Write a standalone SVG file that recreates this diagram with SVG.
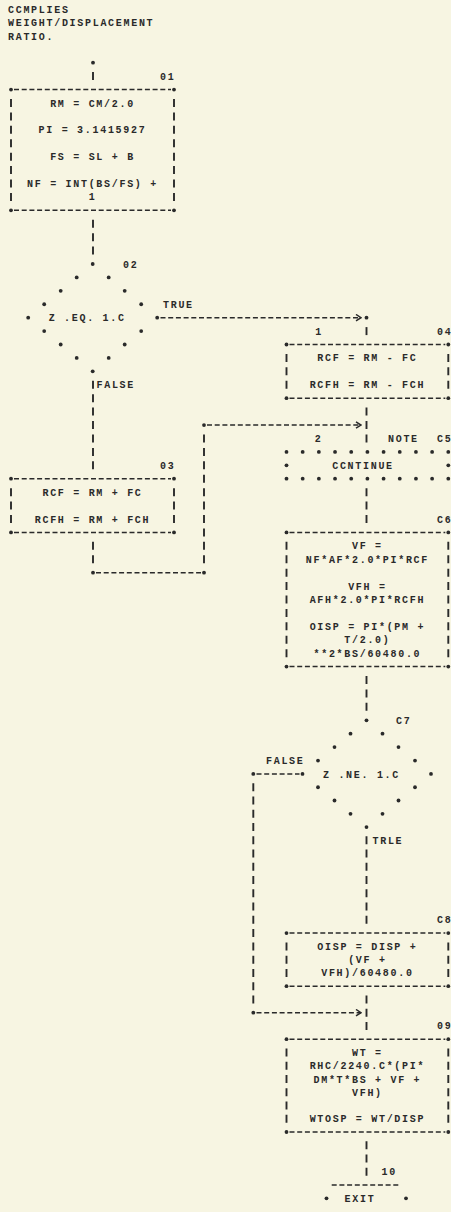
<svg xmlns="http://www.w3.org/2000/svg" width="451" height="1212" viewBox="0 0 451 1212">
  <defs>
    <style>
      .tx { font-family: "Liberation Mono", "DejaVu Sans Mono", monospace; font-size: 10px; font-weight: bold; letter-spacing: 1.7px; fill: #2a2a2a; }
      .c { text-anchor: middle; }
      .hd { fill: none; stroke: #2a2a2a; stroke-width: 1.5; stroke-dasharray: 5 2.7; }
      .v1 { fill: none; stroke: #2a2a2a; stroke-width: 1.9; stroke-dasharray: 8 5.42; }
      .v2 { fill: none; stroke: #2a2a2a; stroke-width: 1.9; stroke-dasharray: 8 5.26; }
      .vb { fill: none; stroke: #2a2a2a; stroke-width: 1.9; }
      .dt { fill: #2a2a2a; }
    </style>
    <marker id="chev" markerUnits="userSpaceOnUse" markerWidth="7" markerHeight="8" viewBox="0 0 7 8" refX="6" refY="4" orient="auto">
      <path d="M1,0.8 L6,4 L1,7.2" fill="none" stroke="#2a2a2a" stroke-width="1.5"/>
    </marker>
  </defs>

  <rect x="0" y="0" width="451" height="1212" fill="#f7f5e2"/>

  <!-- heading -->
  <g id="heading" class="tx">
    <text x="8" y="12.8">CCMPLIES</text>
    <text x="8" y="26.2">WEIGHT/DISPLACEMENT</text>
    <text x="8" y="39.6">RATIO.</text>
  </g>

  <!-- connectors -->
  <g id="connectors">
    <!-- entry -->
    <circle class="dt" cx="93" cy="62.7" r="1.9"/>
    <path class="vb" d="M93,72.1 V80.1"/>
    <!-- 01 to 02 -->
    <path class="v1" d="M93,219.74 V254.58"/>
    <!-- 02 false branch to 03 -->
    <path class="v1" d="M93,380.78 V469.3"/>
    <text class="tx" x="96.5" y="388.3">FALSE</text>
    <!-- 03 down, across and up into 05 -->
    <path class="v1" d="M93,541.82 V563.24"/>
    <circle class="dt" cx="93" cy="572.66" r="1.9"/>
    <path class="hd" d="M96,572.66 H201"/>
    <circle class="dt" cx="204" cy="572.66" r="1.9"/>
    <path class="v1" d="M204,434.46 V563.24"/>
    <circle class="dt" cx="204" cy="425.04" r="1.9"/>
    <path class="hd" d="M207,425.04 H361" marker-end="url(#chev)"/>
    <!-- 02 true branch to 04 -->
    <text class="tx" x="163" y="307.8">TRUE</text>
    <path class="hd" d="M160.5,317.68 H361" marker-end="url(#chev)"/>
    <circle class="dt" cx="366.5" cy="317.68" r="1.9"/>
    <path class="vb" d="M366.5,327.1 V335.1"/>
    <text class="tx c" x="319" y="334.6">1</text>
    <!-- 04 to 05 -->
    <path class="v1" d="M366.5,407.62 V442.46"/>
    <text class="tx c" x="318.5" y="442">2</text>
    <!-- 05 to 06 -->
    <path class="v1" d="M366.5,488.14 V522.98"/>
    <!-- 06 to 07 -->
    <path class="v1" d="M366.5,676.02 V710.86"/>
    <!-- 07 false branch around 08 into 09 -->
    <text class="tx" x="266" y="764">FALSE</text>
    <circle class="dt" cx="253.3" cy="773.96" r="1.9"/>
    <path class="hd" d="M256.5,773.96 H299.5"/>
    <path class="v2" d="M253.3,783.26 V1003.42"/>
    <circle class="dt" cx="253.3" cy="1012.68" r="1.9"/>
    <path class="hd" d="M256.5,1012.68 H361" marker-end="url(#chev)"/>
    <!-- 07 true branch to 08 -->
    <text class="tx" x="372.5" y="843.8">TRLE</text>
    <path class="v2" d="M366.5,836.3 V923.86"/>
    <!-- 08 to 09 -->
    <path class="v2" d="M366.5,995.42 V1029.94"/>
    <!-- 09 to exit -->
    <path class="v2" d="M366.5,1141.28 V1175.8"/>
  </g>

  <!-- 01 initial assignments -->
  <g id="n01">
    <text class="tx" x="160" y="79.6">01</text>
    <path class="hd" d="M14,89.54 H171 M14,210.32 H171"/>
    <path class="v1" d="M11,98.96 V200.9 M174,98.96 V200.9"/>
    <circle class="dt" cx="11" cy="89.54" r="1.9"/>
    <circle class="dt" cx="174" cy="89.54" r="1.9"/>
    <circle class="dt" cx="11" cy="210.32" r="1.9"/>
    <circle class="dt" cx="174" cy="210.32" r="1.9"/>
    <g class="tx c">
      <text x="92.5" y="106.5">RM = CM/2.0</text>
      <text x="92.5" y="133.3">PI = 3.1415927</text>
      <text x="92.5" y="160.1">FS = SL + B</text>
      <text x="92.5" y="187">NF = INT(BS/FS) +</text>
      <text x="92.5" y="200.4">1</text>
    </g>
  </g>

  <!-- 02 decision -->
  <g id="n02">
    <text class="tx" x="123" y="267.5">02</text>
    <g class="dt">
      <circle cx="92.7" cy="264" r="1.9"/>
      <circle cx="76.7" cy="277.42" r="1.9"/><circle cx="108.7" cy="277.42" r="1.9"/>
      <circle cx="60.7" cy="290.84" r="1.9"/><circle cx="124.7" cy="290.84" r="1.9"/>
      <circle cx="44.2" cy="304.26" r="1.9"/><circle cx="141.2" cy="304.26" r="1.9"/>
      <circle cx="28.2" cy="317.68" r="1.9"/><circle cx="157.2" cy="317.68" r="1.9"/>
      <circle cx="44.2" cy="331.1" r="1.9"/><circle cx="141.2" cy="331.1" r="1.9"/>
      <circle cx="60.7" cy="344.52" r="1.9"/><circle cx="124.7" cy="344.52" r="1.9"/>
      <circle cx="76.7" cy="357.94" r="1.9"/><circle cx="108.7" cy="357.94" r="1.9"/>
      <circle cx="92.7" cy="371.36" r="1.9"/>
    </g>
    <text class="tx" x="48.7" y="321.2">Z .EQ. 1.C</text>
  </g>

  <!-- 03 false-path assignments -->
  <g id="n03">
    <text class="tx" x="160" y="468.8">03</text>
    <path class="hd" d="M14,478.72 H171 M14,532.4 H171"/>
    <path class="v1" d="M11,488.14 V522.98 M174,488.14 V522.98"/>
    <circle class="dt" cx="11" cy="478.72" r="1.9"/>
    <circle class="dt" cx="174" cy="478.72" r="1.9"/>
    <circle class="dt" cx="11" cy="532.4" r="1.9"/>
    <circle class="dt" cx="174" cy="532.4" r="1.9"/>
    <g class="tx c">
      <text x="92.5" y="495.6">RCF = RM + FC</text>
      <text x="92.5" y="522.5">RCFH = RM + FCH</text>
    </g>
  </g>

  <!-- 04 true-path assignments -->
  <g id="n04">
    <text class="tx" x="437" y="334.6">04</text>
    <path class="hd" d="M289.5,344.52 H445.3 M289.5,398.2 H445.3"/>
    <path class="v1" d="M286.5,353.94 V388.78 M448.3,353.94 V388.78"/>
    <circle class="dt" cx="286.5" cy="344.52" r="1.9"/>
    <circle class="dt" cx="448.3" cy="344.52" r="1.9"/>
    <circle class="dt" cx="286.5" cy="398.2" r="1.9"/>
    <circle class="dt" cx="448.3" cy="398.2" r="1.9"/>
    <g class="tx c">
      <text x="367.4" y="361.4">RCF = RM - FC</text>
      <text x="367.4" y="388.3">RCFH = RM - FCH</text>
    </g>
  </g>

  <!-- 05 continue -->
  <g id="n05">
    <text class="tx" x="388" y="442">NOTE</text>
    <text class="tx" x="437" y="442">C5</text>
    <g class="dt">
      <circle cx="286.5" cy="451.88" r="1.9"/><circle cx="302.68" cy="451.88" r="1.9"/>
      <circle cx="318.86" cy="451.88" r="1.9"/><circle cx="335.04" cy="451.88" r="1.9"/>
      <circle cx="351.22" cy="451.88" r="1.9"/><circle cx="367.4" cy="451.88" r="1.9"/>
      <circle cx="383.58" cy="451.88" r="1.9"/><circle cx="399.76" cy="451.88" r="1.9"/>
      <circle cx="415.94" cy="451.88" r="1.9"/><circle cx="432.12" cy="451.88" r="1.9"/>
      <circle cx="448.3" cy="451.88" r="1.9"/>
      <circle cx="286.5" cy="465.3" r="1.9"/><circle cx="448.3" cy="465.3" r="1.9"/>
      <circle cx="286.5" cy="478.72" r="1.9"/><circle cx="302.68" cy="478.72" r="1.9"/>
      <circle cx="318.86" cy="478.72" r="1.9"/><circle cx="335.04" cy="478.72" r="1.9"/>
      <circle cx="351.22" cy="478.72" r="1.9"/><circle cx="367.4" cy="478.72" r="1.9"/>
      <circle cx="383.58" cy="478.72" r="1.9"/><circle cx="399.76" cy="478.72" r="1.9"/>
      <circle cx="415.94" cy="478.72" r="1.9"/><circle cx="432.12" cy="478.72" r="1.9"/>
      <circle cx="448.3" cy="478.72" r="1.9"/>
    </g>
    <text class="tx c" x="363" y="468.8">CCNTINUE</text>
  </g>

  <!-- 06 volumes and displacement -->
  <g id="n06">
    <text class="tx" x="437" y="522.5">C6</text>
    <path class="hd" d="M289.5,532.4 H445.3 M289.5,666.6 H445.3"/>
    <path class="v1" d="M286.5,541.82 V657.18 M448.3,541.82 V657.18"/>
    <circle class="dt" cx="286.5" cy="532.4" r="1.9"/>
    <circle class="dt" cx="448.3" cy="532.4" r="1.9"/>
    <circle class="dt" cx="286.5" cy="666.6" r="1.9"/>
    <circle class="dt" cx="448.3" cy="666.6" r="1.9"/>
    <g class="tx c">
      <text x="367.4" y="549.3">VF =</text>
      <text x="367.4" y="562.7">NF*AF*2.0*PI*RCF</text>
      <text x="367.4" y="589.6">VFH =</text>
      <text x="367.4" y="603">AFH*2.0*PI*RCFH</text>
      <text x="367.4" y="629.8">OISP = PI*(PM +</text>
      <text x="367.4" y="643.3">T/2.0)</text>
      <text x="367.4" y="656.7">**2*BS/60480.0</text>
    </g>
  </g>

  <!-- 07 decision -->
  <g id="n07">
    <text class="tx" x="396" y="723.8">C7</text>
    <g class="dt">
      <circle cx="366.5" cy="720.28" r="1.9"/>
      <circle cx="350.5" cy="733.7" r="1.9"/><circle cx="382.5" cy="733.7" r="1.9"/>
      <circle cx="334.5" cy="747.12" r="1.9"/><circle cx="398.5" cy="747.12" r="1.9"/>
      <circle cx="318" cy="760.54" r="1.9"/><circle cx="415" cy="760.54" r="1.9"/>
      <circle cx="302.5" cy="773.96" r="1.9"/><circle cx="431" cy="773.96" r="1.9"/>
      <circle cx="318" cy="787.26" r="1.9"/><circle cx="415" cy="787.26" r="1.9"/>
      <circle cx="334.5" cy="800.52" r="1.9"/><circle cx="398.5" cy="800.52" r="1.9"/>
      <circle cx="350.5" cy="813.78" r="1.9"/><circle cx="382.5" cy="813.78" r="1.9"/>
      <circle cx="366.5" cy="827.04" r="1.9"/>
    </g>
    <text class="tx" x="323" y="777.5">Z .NE. 1.C</text>
  </g>

  <!-- 08 displacement with appendages -->
  <g id="n08">
    <text class="tx" x="437" y="923.4">C8</text>
    <path class="hd" d="M289.5,933.12 H445.3 M289.5,986.16 H445.3"/>
    <path class="v2" d="M286.5,942.38 V976.9 M448.3,942.38 V976.9"/>
    <circle class="dt" cx="286.5" cy="933.12" r="1.9"/>
    <circle class="dt" cx="448.3" cy="933.12" r="1.9"/>
    <circle class="dt" cx="286.5" cy="986.16" r="1.9"/>
    <circle class="dt" cx="448.3" cy="986.16" r="1.9"/>
    <g class="tx c">
      <text x="367.4" y="949.9">OISP = DISP +</text>
      <text x="367.4" y="963.1">(VF +</text>
      <text x="367.4" y="976.4">VFH)/60480.0</text>
    </g>
  </g>

  <!-- 09 weight and ratio -->
  <g id="n09">
    <text class="tx" x="437" y="1029.4">09</text>
    <path class="hd" d="M289.5,1039.2 H445.3 M289.5,1132.02 H445.3"/>
    <path class="v2" d="M286.5,1048.46 V1122.76 M448.3,1048.46 V1122.76"/>
    <circle class="dt" cx="286.5" cy="1039.2" r="1.9"/>
    <circle class="dt" cx="448.3" cy="1039.2" r="1.9"/>
    <circle class="dt" cx="286.5" cy="1132.02" r="1.9"/>
    <circle class="dt" cx="448.3" cy="1132.02" r="1.9"/>
    <g class="tx c">
      <text x="367.4" y="1056">WT =</text>
      <text x="367.4" y="1069.2">RHC/2240.C*(PI*</text>
      <text x="367.4" y="1082.5">DM*T*BS + VF +</text>
      <text x="367.4" y="1095.7">VFH)</text>
      <text x="367.4" y="1122.3">WTOSP = WT/DISP</text>
    </g>
  </g>

  <!-- 10 exit -->
  <g id="n10">
    <text class="tx" x="381.5" y="1175.3">10</text>
    <path class="hd" d="M331.7,1185.06 H401"/>
    <circle class="dt" cx="326.5" cy="1198.32" r="1.9"/>
    <circle class="dt" cx="406" cy="1198.32" r="1.9"/>
    <text class="tx c" x="360" y="1201.8">EXIT</text>
  </g>
</svg>
